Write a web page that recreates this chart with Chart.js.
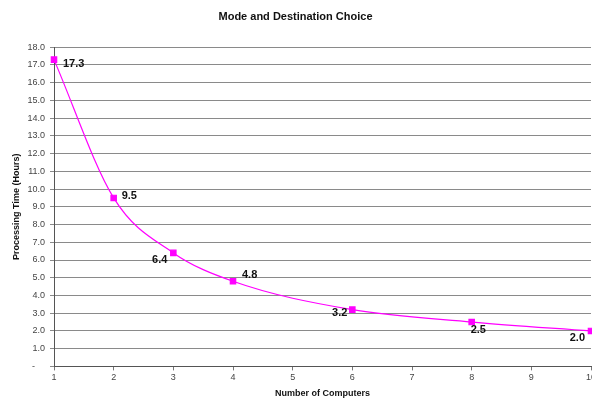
<!DOCTYPE html>
<html>
<head>
<meta charset="utf-8">
<script src="https://cdn.jsdelivr.net/npm/chart.js@4"></script>
<style>
  html, body { margin: 0; padding: 0; background: #fff; }
  #wrap { width: 592px; height: 400px; }
</style>
</head>
<body>
<div id="wrap"><canvas id="c" width="592" height="400"></canvas></div>
<script>
// Processing time by number of computers
const computers = [1, 2, 3, 4, 6, 8, 10];
const hours = [17.3, 9.5, 6.4, 4.8, 3.2, 2.5, 2.0];
const yTicks = [0, 1, 2, 3, 4, 5, 6, 7, 8, 9, 10, 11, 12, 13, 14, 15, 16, 17, 18];
const xTicks = [1, 2, 3, 4, 5, 6, 7, 8, 9, 10];

// where each value label sits relative to its marker: [dx, dy, textAlign]
const labelPlacement = [
  [9, 4, 'left'], [8, -2, 'left'], [-6, 7, 'right'], [9, -6, 'left'],
  [-5, 3, 'right'], [-1, 8, 'left'], [-6, 7, 'right']
];

const valueLabels = {
  id: 'valueLabels',
  afterDatasetsDraw(chart) {
    const ctx = chart.ctx;
    const meta = chart.getDatasetMeta(0);
    ctx.save();
    ctx.font = 'bold 11px "Liberation Sans", Arial, sans-serif';
    ctx.fillStyle = '#111';
    ctx.textBaseline = 'middle';
    meta.data.forEach((pt, i) => {
      const [dx, dy, align] = labelPlacement[i];
      ctx.textAlign = align;
      ctx.fillText(hours[i].toFixed(1), pt.x + dx, pt.y + dy);
    });
    ctx.restore();
  }
};

const tickFont = { family: '"Liberation Sans", Arial, sans-serif', size: 9 };
const titleFont = { family: '"Liberation Sans", Arial, sans-serif', size: 9, weight: 'bold' };

new Chart(document.getElementById('c'), {
  type: 'line',
  data: {
    datasets: [{
      data: computers.map((x, i) => ({ x, y: hours[i] })),
      borderColor: '#ff00ff',
      backgroundColor: '#ff00ff',
      borderWidth: 1.2,
      pointStyle: 'rect',
      pointRadius: 3.8,
      pointHoverRadius: 3.8,
      cubicInterpolationMode: 'monotone',
      clip: false
    }]
  },
  options: {
    responsive: false,
    animation: false,
    events: [],
    layout: { autoPadding: false, padding: { left: 0, right: 1, top: 0, bottom: 1 } },
    plugins: {
      legend: { display: false },
      tooltip: { enabled: false },
      title: {
        display: true,
        text: 'Mode and Destination Choice',
        color: '#111',
        font: { family: '"Liberation Sans", Arial, sans-serif', size: 11, weight: 'bold' },
        padding: { top: 10, bottom: 24 }
      }
    },
    scales: {
      x: {
        type: 'linear',
        min: 1,
        max: 10,
        afterBuildTicks: s => { s.ticks = xTicks.map(v => ({ value: v })); },
        afterFit: s => { s.paddingLeft = 0; s.paddingRight = 0; },
        ticks: { color: '#444', font: tickFont, padding: 2, maxRotation: 0 },
        grid: { display: true, drawOnChartArea: false, drawTicks: true, tickLength: 4, color: '#777' },
        border: { color: '#555', width: 1 },
        title: { display: true, text: 'Number of Computers', color: '#111', font: titleFont, padding: { top: 3, bottom: 0 } }
      },
      y: {
        min: 0,
        max: 18,
        afterBuildTicks: s => { s.ticks = yTicks.map(v => ({ value: v })); },
        afterFit: s => { s.width = 54; s.paddingTop = 0; s.paddingBottom = 0; },
        ticks: {
          color: '#444',
          font: tickFont,
          padding: 5,
          callback: v => v === 0 ? '-    ' : v.toFixed(1)
        },
        grid: { color: '#8a8a8a', lineWidth: 1, tickLength: 4 },
        border: { color: '#555', width: 1 },
        title: { display: true, text: 'Processing Time (Hours)', color: '#111', font: titleFont, padding: { top: 11, bottom: 4 } }
      }
    }
  },
  plugins: [valueLabels]
});
</script>
</body>
</html>
